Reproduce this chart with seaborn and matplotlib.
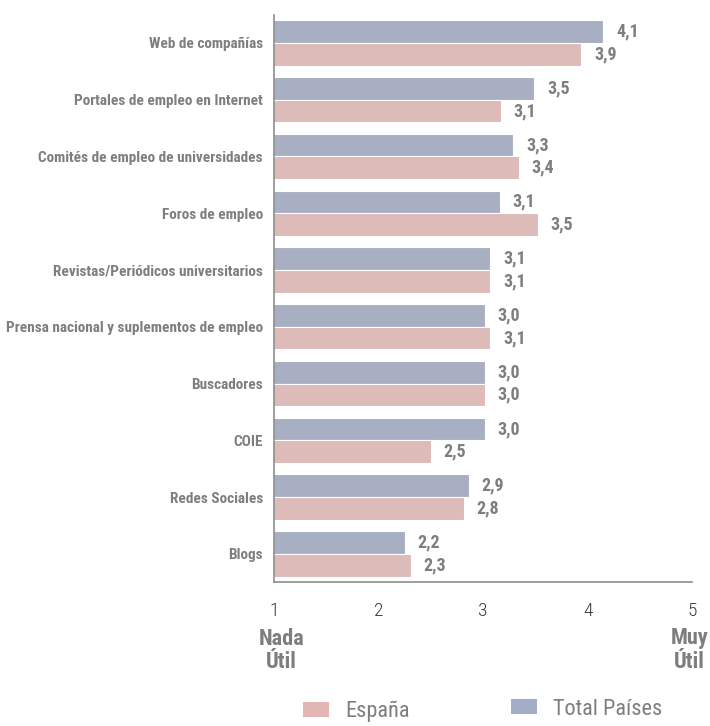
import numpy as np
import pandas as pd
import seaborn as sns
import matplotlib.pyplot as plt
from matplotlib import font_manager
from matplotlib.patches import Patch

categorias = ['Web de compañías', 'Portales de empleo en Internet',
              'Comités de empleo de universidades', 'Foros de empleo',
              'Revistas/Periódicos universitarios',
              'Prensa nacional y suplementos de empleo', 'Buscadores', 'COIE',
              'Redes Sociales', 'Blogs']
total_paises = [4.15, 3.49, 3.29, 3.16, 3.07, 3.02, 3.02, 3.02, 2.86, 2.25]
espana = [3.94, 3.17, 3.34, 3.52, 3.07, 3.07, 3.02, 2.50, 2.82, 2.31]
etiq_total = ['4,1', '3,5', '3,3', '3,1', '3,1', '3,0', '3,0', '3,0', '2,9', '2,2']
etiq_espana = ['3,9', '3,1', '3,4', '3,5', '3,1', '3,1', '3,0', '2,5', '2,8', '2,3']

df = pd.DataFrame({
    'categoria': categorias * 2,
    'valor': total_paises + espana,
    'serie': ['Total Países'] * 10 + ['España'] * 10,
})

sns.set_style('white')

# fuente estrecha si hay alguna instalada
fuentes = font_manager.fontManager.ttflist
nombres = {f.name for f in fuentes}
fuente = 'DejaVu Sans'
for n in ['Liberation Sans Narrow', 'Roboto Condensed', 'Open Sans Condensed',
          'DejaVu Sans Condensed']:
    if n in nombres:
        fuente = n
        break
plt.rcParams['font.family'] = [fuente, 'DejaVu Sans']
if any(f.name == fuente and 'condensed' in str(f.stretch) for f in fuentes):
    plt.rcParams['font.stretch'] = 'condensed'

azul = '#a3adc8'
rosa = '#e3b5b3'
gris = '#7d7e80'
eje = '#8e8e8e'

fig = plt.figure(figsize=(7.1, 7.26), dpi=100)
ax = fig.add_axes([0.386, 0.198, 0.589, 0.782])

sns.barplot(data=df, x='valor', y='categoria', hue='serie',
            hue_order=['Total Países', 'España'], palette=[azul, rosa],
            orient='h', width=0.8, edgecolor='white', linewidth=0.8,
            legend=False, ax=ax)

ax.set_xlim(1, 5)
ax.set_ylim(9.5, -0.5)
ax.set_xlabel('')
ax.set_ylabel('')

for cont, etiq in zip(ax.containers, [etiq_total, etiq_espana]):
    ax.bar_label(cont, labels=etiq, padding=9, fontsize=13,
                 fontweight='bold', color=gris)

ax.set_yticks(range(len(categorias)))
ax.set_yticklabels(categorias, fontsize=11, fontweight='bold', color=gris)
ax.set_yticks(np.arange(-0.5, len(categorias)), minor=True)
ax.tick_params(axis='y', which='major', length=0, pad=8)
ax.tick_params(axis='y', which='minor', length=4, width=1, color=eje)

ax.set_xticks([1, 2, 3, 4, 5])
ax.set_xticklabels(['1', '2', '3', '4', '5'], fontsize=14, color='#3a3a3a',
                   fontweight='light')
ax.tick_params(axis='x', length=4, width=1, color=eje, pad=10)

for lado in ['top', 'right']:
    ax.spines[lado].set_visible(False)
for lado in ['left', 'bottom']:
    ax.spines[lado].set_color(eje)
    ax.spines[lado].set_linewidth(1.2)

# ajustar el tamaño de las etiquetas para que quepan a la izquierda
fig.canvas.draw()
r = fig.canvas.get_renderer()
ancho = max(t.get_window_extent(r).width for t in ax.get_yticklabels())
tam = min(11.5, 11 * 256 / ancho)
for t in ax.get_yticklabels():
    t.set_fontsize(tam)

ax.text(1.07, -0.08, 'Nada\nÚtil', transform=ax.get_xaxis_transform(),
        ha='center', va='top', fontsize=16, fontweight='bold', color=gris,
        linespacing=1.1, multialignment='center')
fig.text(0.998, 1 - 627 / 726, 'Muy\nÚtil', ha='right', va='top',
         fontsize=16, fontweight='bold', color=gris, linespacing=1.1,
         multialignment='center')

for nombre, color, x, y in [('España', rosa, 0.427, 0.020),
                            ('Total Países', azul, 0.720, 0.0234)]:
    fig.legend(handles=[Patch(facecolor=color, edgecolor='none', label=nombre)],
               loc='center left', bbox_to_anchor=(x, y), frameon=False,
               fontsize=16, labelcolor=gris, borderpad=0, borderaxespad=0,
               handlelength=1.15, handleheight=0.68, handletextpad=0.75)

fig.savefig('out.png', dpi=100)
